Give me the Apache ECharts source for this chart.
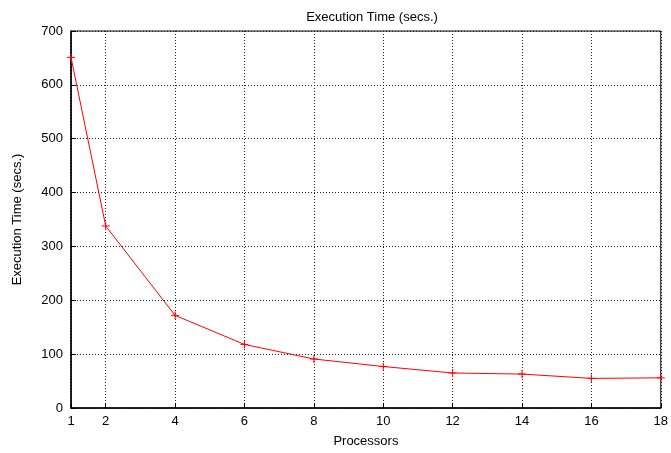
<!DOCTYPE html>
<html>
<head>
<meta charset="utf-8">
<script src="https://cdn.jsdelivr.net/npm/echarts@6/dist/echarts.min.js"></script>
<style>
  html, body { margin: 0; padding: 0; background: #fff; }
  #chart { width: 671px; height: 453px; }
</style>
</head>
<body>
<div id="chart"></div>
<script>
// Execution time measured for each processor count
const processors = [1, 2, 4, 6, 8, 10, 12, 14, 16, 18];
const execTime = [651, 338, 172, 118, 91, 77, 65, 63, 55, 56];
const xTicks = [1, 2, 4, 6, 8, 10, 12, 14, 16, 18];
const yTicks = [0, 100, 200, 300, 400, 500, 600, 700];

const FONT = 'Liberation Sans, Arial, sans-serif';
const gridLine = { color: '#222', width: 1, type: [1, 2] };

const chart = echarts.init(document.getElementById('chart'), null, { renderer: 'canvas' });

chart.setOption({
  animation: false,
  backgroundColor: '#fff',
  title: {
    text: 'Execution Time (secs.)',
    left: 367, top: 6, textAlign: 'center',
    textStyle: { fontFamily: FONT, fontSize: 13, fontWeight: 'normal', color: '#000' }
  },
  grid: { left: 71, right: 9, top: 31, height: 377.5, containLabel: false,
          show: true, borderColor: '#000', borderWidth: 1 },
  xAxis: {
    type: 'value', min: 1, max: 18,
    name: 'Processors', nameLocation: 'middle', nameGap: 27,
    nameTextStyle: { fontFamily: FONT, fontSize: 13, color: '#000' },
    axisLine: { show: true, lineStyle: { color: '#000', width: 1.5 } },
    axisTick: { show: true, inside: true, length: 5, customValues: xTicks, lineStyle: { color: '#000' } },
    axisLabel: { customValues: xTicks, margin: 7, fontFamily: FONT, fontSize: 13, color: '#000' },
    splitLine: { show: true, lineStyle: gridLine }
  },
  yAxis: {
    type: 'value', min: 0, max: 700, interval: 100,
    name: 'Execution Time (secs.)', nameLocation: 'middle', nameGap: 47, nameRotate: 90,
    nameTextStyle: { fontFamily: FONT, fontSize: 13, color: '#000' },
    axisLine: { show: true, lineStyle: { color: '#000', width: 1.5 } },
    axisTick: { show: true, inside: true, length: 5, lineStyle: { color: '#000' } },
    axisLabel: { customValues: yTicks, margin: 8, fontFamily: FONT, fontSize: 13, color: '#000' },
    splitLine: { show: true, lineStyle: gridLine }
  },
  series: [{
    type: 'line',
    data: processors.map((p, i) => [p, execTime[i]]),
    symbol: 'path://M0,5 L10,5 M5,0 L5,10',
    symbolSize: 8,
    showSymbol: true,
    itemStyle: { color: 'transparent', borderColor: '#ff0000', borderWidth: 1 },
    lineStyle: { color: '#ff0000', width: 1 },
    clip: false
  }]
});
</script>
</body>
</html>
